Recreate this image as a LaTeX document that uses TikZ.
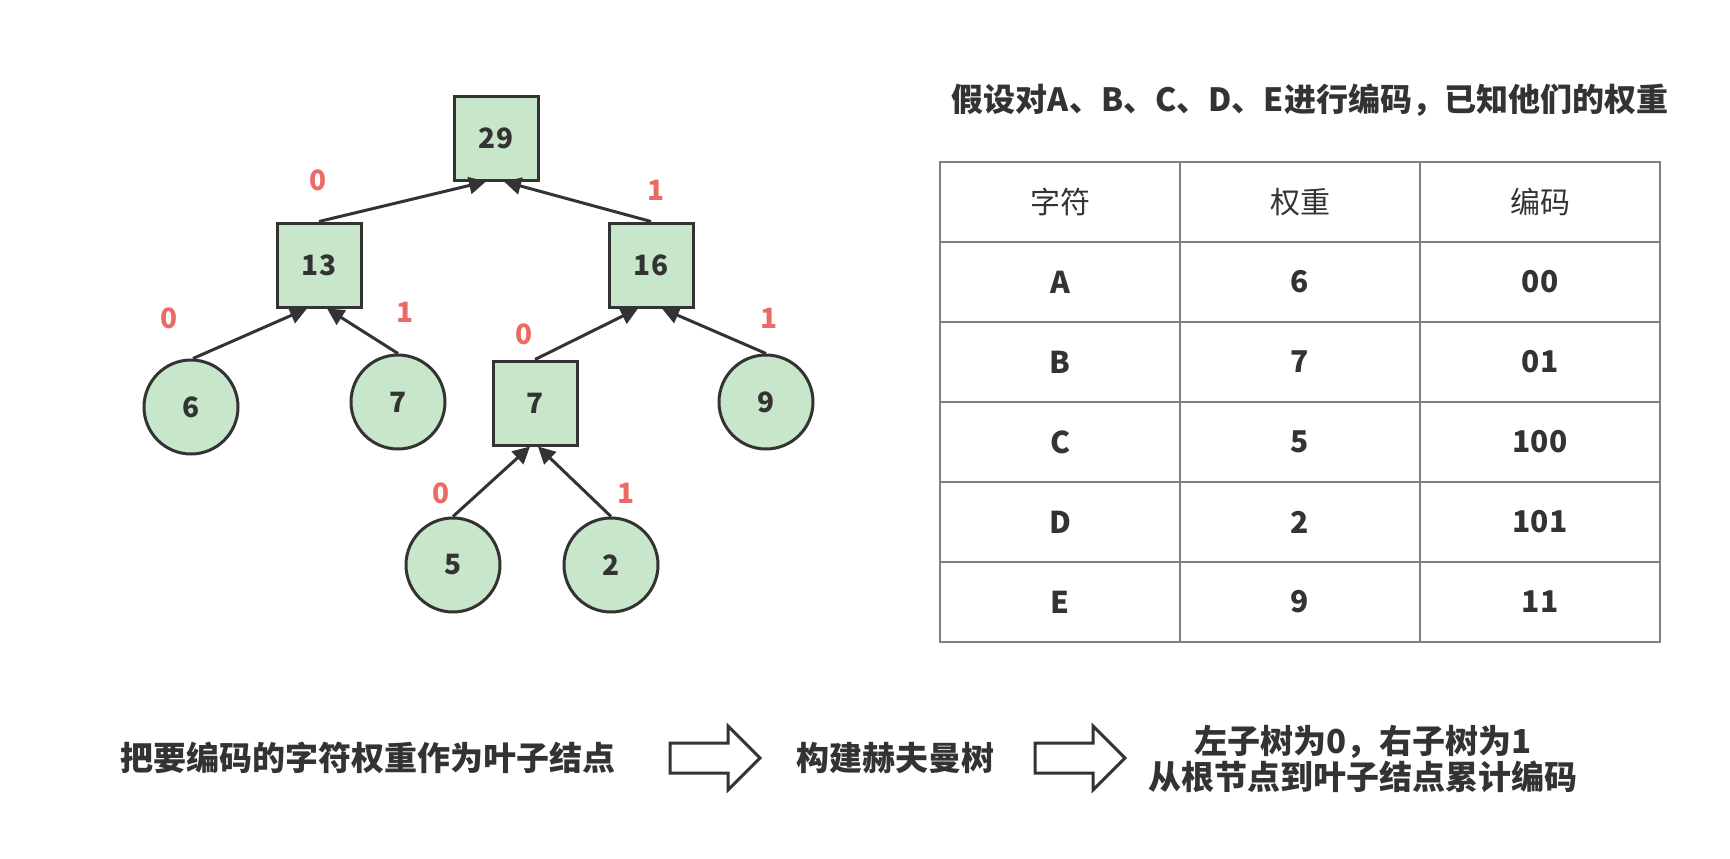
\documentclass[tikz,border=0pt]{standalone}
\usepackage{fontspec}
\setmainfont{Noto Sans CJK SC}
\usetikzlibrary{arrows.meta}
\definecolor{fillg}{HTML}{C8E6C9}
\definecolor{ink}{HTML}{333333}
\definecolor{lbl}{HTML}{EA6B66}
\definecolor{grid}{HTML}{808080}
\tikzset{
  sq/.style={draw=ink,fill=fillg,line width=3pt,minimum width=84pt,minimum height=84pt,inner sep=0pt,text=ink,font=\fontsize{28}{30}\selectfont\bfseries},
  leaf/.style={draw=ink,fill=fillg,line width=3pt,circle,minimum size=94pt,inner sep=0pt,text=ink,font=\fontsize{28}{30}\selectfont\bfseries},
  edge/.style={draw=ink,line width=3pt,-{Triangle[length=17pt,width=17pt]}},
  bit/.style={text=lbl,font=\fontsize{28}{30}\selectfont\bfseries},
  cell/.style={text=ink,font=\fontsize{30}{32}\selectfont\bfseries},
  head/.style={text=ink,font=\fontsize{30}{32}\selectfont},
  txt/.style={text=ink,font=\fontsize{33}{36}\selectfont\bfseries},
  blk/.style={draw=ink,line width=3pt,fill=white,line join=miter},
}
\begin{document}
\begin{tikzpicture}[x=1pt,y=-1pt]
\useasboundingbox (0,0) rectangle (1730,859);
% tree
\node[sq] (n29) at (496,138) {29};
\node[sq] (n13) at (319,265) {13};
\node[sq] (n16) at (651,265) {16};
\node[sq] (n7b) at (535,403) {7};
\node[leaf] (l6) at (191,407) {6};
\node[leaf] (l7) at (398,402) {7};
\node[leaf] (l9) at (766,402) {9};
\node[leaf] (l5) at (453,565) {5};
\node[leaf] (l2) at (611,565) {2};
\draw[edge] (n13.north) -- ([xshift=-10pt]n29.south);
\draw[edge] (n16.north) -- ([xshift=8pt]n29.south);
\draw[edge] ([xshift=2pt]l6.north) -- ([xshift=-12pt]n13.south);
\draw[edge] (l7.north) -- ([xshift=8pt]n13.south);
\draw[edge] (n7b.north) -- ([xshift=-13pt]n16.south);
\draw[edge] (l9.north) -- ([xshift=11pt]n16.south);
\draw[edge] (l5.north) -- ([xshift=-5pt]n7b.south);
\draw[edge] (l2.north) -- ([xshift=3pt]n7b.south);
\node[bit] (b1) at (318,180) {0};
\node[bit] (b2) at (656,190) {1};
\node[bit] (b3) at (169,318) {0};
\node[bit] (b4) at (405,312) {1};
\node[bit] (b5) at (524,334) {0};
\node[bit] (b6) at (769,318) {1};
\node[bit] (b7) at (441,493) {0};
\node[bit] (b8) at (626,493) {1};
% title
\node[txt,font=\fontsize{32}{34}\selectfont\bfseries] (title) at (1310,100) {假设对A、B、C、D、E进行编码，已知他们的权重};
% table
\draw[grid,line width=2pt] (940,162) rectangle (1660,642);
\foreach \yy in {242,322,402,482,562} \draw[grid,line width=2pt] (940,\yy) -- (1660,\yy);
\foreach \xx in {1180,1420} \draw[grid,line width=2pt] (\xx,162) -- (\xx,642);
\node[head] (h1) at (1060,202) {字符};
\node[head] (h2) at (1300,202) {权重};
\node[head] (h3) at (1540,202) {编码};
\node[cell] (a1) at (1060,282) {A};
\node[cell] (a2) at (1300,282) {6};
\node[cell] (a3) at (1540,282) {00};
\node[cell] (c1) at (1060,362) {B};
\node[cell] (c2) at (1300,362) {7};
\node[cell] (c3) at (1540,362) {01};
\node[cell] (d1) at (1060,442) {C};
\node[cell] (d2) at (1300,442) {5};
\node[cell] (d3) at (1540,442) {100};
\node[cell] (e1) at (1060,522) {D};
\node[cell] (e2) at (1300,522) {2};
\node[cell] (e3) at (1540,522) {101};
\node[cell] (f1) at (1060,602) {E};
\node[cell] (f2) at (1300,602) {9};
\node[cell] (f3) at (1540,602) {11};
% bottom flow
\node[txt] (s1) at (368,758) {把要编码的字符权重作为叶子结点};
\draw[blk] (670,743) -- (728,743) -- (728,726) -- (760,758) -- (728,790) -- (728,773) -- (670,773) -- cycle;
\node[txt] (s2) at (895,758) {构建赫夫曼树};
\draw[blk] (1035,743) -- (1093,743) -- (1093,726) -- (1125,758) -- (1093,790) -- (1093,773) -- (1035,773) -- cycle;
\node[txt,align=center] (s3) at (1363,759) {左子树为0，右子树为1\\从根节点到叶子结点累计编码};
\end{tikzpicture}
\end{document}
